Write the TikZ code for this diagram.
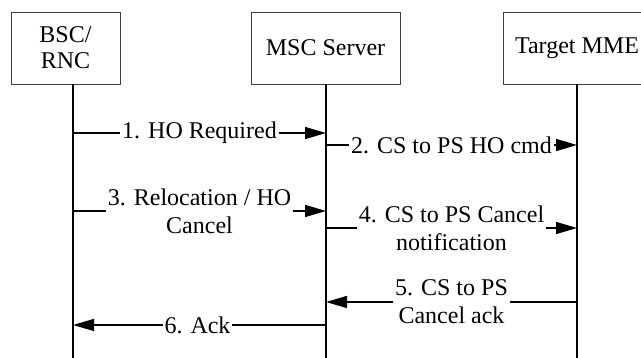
\documentclass[tikz,border=0pt]{standalone}
\usepackage{fontspec}
\setmainfont{Liberation Serif}
\usetikzlibrary{arrows.meta}
\begin{document}
\begin{tikzpicture}[x=1pt,y=-1pt,
  ent/.style={draw=black!75, line width=0.8pt, minimum height=72pt, inner sep=0pt, align=center, font=\fontsize{24}{26}\selectfont},
  life/.style={line width=1.8pt},
  msg/.style={line width=1.4pt, -{Triangle[length=21pt,width=12pt]}},
  lbl/.style={fill=white, inner xsep=2pt, inner ysep=0pt, align=center, font=\fontsize{24}{28}\selectfont}]
\useasboundingbox (0,0) rectangle (641,358);
\fill[white] (0,0) rectangle (641,358);
% entities
\node[ent, minimum width=109pt] (bsc) at (65.5,48) {BSC/\\RNC};
\node[ent, minimum width=149pt] (msc) at (325.5,48) {MSC Server};
\node[ent, minimum width=148pt] (mme) at (577,48) {Target MME};
% lifelines
\coordinate (a0) at (73,84);  \coordinate (a1) at (73,358);
\coordinate (b0) at (326,84); \coordinate (b1) at (326,358);
\coordinate (c0) at (577,84); \coordinate (c1) at (577,358);
\draw[life] (a0) -- (a1);
\draw[life] (b0) -- (b1);
\draw[life] (c0) -- (c1);
% message endpoints
\coordinate (m1s) at (73,133);  \coordinate (m1e) at (326,133);
\coordinate (m2s) at (326,145); \coordinate (m2e) at (577,145);
\coordinate (m3s) at (73,211);  \coordinate (m3e) at (326,211);
\coordinate (m4s) at (326,228); \coordinate (m4e) at (577,228);
\coordinate (m5s) at (577,302); \coordinate (m5e) at (326,302);
\coordinate (m6s) at (326,325); \coordinate (m6e) at (73,325);
% messages
\draw[msg] (m1s) -- node[lbl] {1. HO Required} (m1e);
\draw[msg] (m2s) -- node[lbl] {2. CS to PS HO cmd} (m2e);
\draw[msg] (m3s) -- node[lbl] {3. Relocation / HO\\Cancel} (m3e);
\draw[msg] (m4s) -- node[lbl] {4. CS to PS Cancel\\notification} (m4e);
\draw[msg] (m5s) -- node[lbl] {5. CS to PS\\Cancel ack} (m5e);
\draw[msg] (m6s) -- node[lbl, xshift=-2pt] {6. Ack} (m6e);
\end{tikzpicture}
\end{document}
